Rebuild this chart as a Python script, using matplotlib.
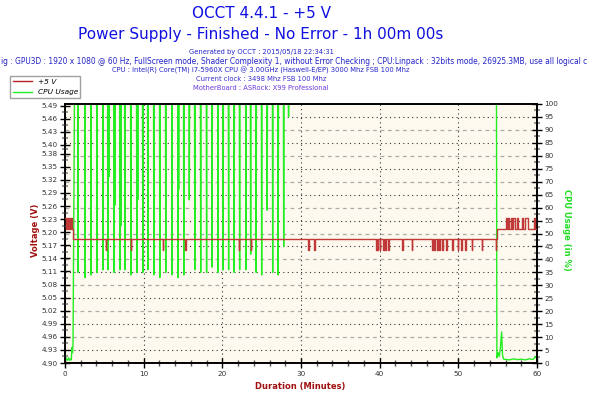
import matplotlib
matplotlib.use('Agg')
import matplotlib.pyplot as plt
from matplotlib.lines import Line2D
from matplotlib.ticker import FixedLocator, MultipleLocator

# ---------------- data ----------------
# CPU usage (%) vs time (minutes)
cpu_start_t = [0.0, 0.05, 0.15, 0.3, 0.45, 0.6, 0.7, 0.8, 0.88, 0.95, 1.02, 1.1, 1.2]
cpu_start_v = [10, 3, 1.5, 1, 2, 1, 1.5, 1.2, 6, 4, 7, 50, 100]
cpu_drop_t = [1.65, 2.54, 3.30, 4.06, 4.82, 5.45, 5.60, 6.22, 6.35, 6.98, 7.10, 7.61,
              8.37, 9.13, 9.25, 9.89, 10.53, 11.29, 12.05, 12.81, 13.60, 14.37, 14.45,
              15.10, 15.80, 16.50, 17.25, 18.00, 18.70, 19.45, 20.10, 20.80, 21.50,
              22.20, 23.00, 23.60, 24.30, 25.00, 25.70, 26.40, 27.10, 27.80, 28.42]
cpu_drop_v = [35, 33, 34, 35, 36, 36, 72, 35, 61, 36, 53, 36,
              34, 35, 63, 35, 36, 34, 33, 35, 34, 33, 67,
              34, 63, 36, 35, 35, 37, 35, 36, 36, 35,
              36, 36, 42, 35, 34, 59, 35, 34, 45, 95]
cpu_end_t = [54.85, 54.9, 55.05, 55.2, 55.35, 55.5, 55.62, 55.75, 56.5, 57.0, 57.5,
             58.0, 58.5, 59.0, 59.5, 59.85, 60.0]
cpu_end_v = [100, 2, 4, 2.5, 6, 12, 3, 1.5, 1.2, 1.6, 1.3, 1.5, 1.2, 1.6, 1.4, 2.5, 1.5]

# +5 V voltage (V)
v_osc_t = [0.0, 0.12, 0.25, 0.38, 0.5, 0.62, 0.75, 0.88]
v_osc_v = [5.232, 5.208, 5.232, 5.208, 5.232, 5.208, 5.232, 5.208]
v_base_before = 5.184
v_base_after = 5.208
v_low = 5.160
v_high = 5.232
v_step_t = 54.9
v_drop_t = [5.16, 8.33, 12.4, 15.3, 22.1, 23.6, 30.9, 31.7, 39.5, 39.7, 40.0, 40.4,
            40.7, 41.1, 42.9, 44.1, 46.6, 46.9, 47.3, 47.6, 47.9, 48.4, 49.2, 49.9,
            50.3, 50.9, 51.7, 53.0, 54.75]
v_drop_w = [0.1, 0.1, 0.08, 0.12, 0.08, 0.06, 0.08, 0.1, 0.1, 0.15, 0.1, 0.2,
            0.1, 0.08, 0.06, 0.06, 0.2, 0.1, 0.15, 0.1, 0.15, 0.1, 0.1, 0.1,
            0.15, 0.1, 0.08, 0.06, 0.05]
v_spike_t = [56.0, 56.3, 56.7, 57.0, 57.5, 58.1, 58.5, 59.6]
v_spike_w = [0.15, 0.15, 0.1, 0.15, 0.1, 0.1, 0.3, 0.1]

volt_ticks = [4.90, 4.93, 4.96, 4.99, 5.02, 5.05, 5.08, 5.11, 5.14, 5.17, 5.20,
              5.23, 5.26, 5.29, 5.32, 5.35, 5.38, 5.40, 5.43, 5.46, 5.49]
volt_labels = ['4.90', '4.93', '4.96', '4.99', '5.02', '5.05', '5.08', '5.11', '5.14',
               '5.17', '5.20', '5.23', '5.26', '5.29', '5.32', '5.35', '5.38', '5.40',
               '5.43', '5.46', '5.49']
cpu_ticks = list(range(0, 101, 5))
x_ticks = [0, 10, 20, 30, 40, 50, 60]

# ---------------- build series ----------------
cpu_t = list(cpu_start_t)
cpu_v = list(cpu_start_v)
for t, v in zip(cpu_drop_t, cpu_drop_v):
    cpu_t += [t - 0.035, t, t + 0.035]
    cpu_v += [100, v, 100]
cpu_t += cpu_end_t
cpu_v += cpu_end_v

vt = list(v_osc_t)
vv = list(v_osc_v)
vt.append(1.0)
vv.append(v_base_before)
for t, w in zip(v_drop_t, v_drop_w):
    vt += [t, t + w]
    vv += [v_low, v_base_before]
vt.append(v_step_t)
vv.append(v_base_after)
for t, w in zip(v_spike_t, v_spike_w):
    vt += [t, t + w]
    vv += [v_high, v_base_after]
vt.append(60.0)
vv.append(v_base_after)

# ---------------- figure ----------------
fig = plt.figure(figsize=(6, 4), dpi=100)
fig.patch.set_facecolor('white')
ax = fig.add_axes([65/600, 1 - 363/400, 472/600, 259/400])
ax.set_facecolor('#FEF9EE')
ax2 = ax.twinx()

# CPU axis (right side)
ax.yaxis.tick_right()
ax.yaxis.set_label_position('right')
ax.set_xlim(0, 60)
ax.set_ylim(0, 100)
ax2.yaxis.tick_left()
ax2.set_ylim(4.90, 5.494)

# grid
for p in cpu_ticks[1:-1]:
    if p % 10 == 5:
        ax.axhline(p, color='#333333', lw=0.8, ls=(0, (1, 3)), zorder=0.5)
    else:
        ax.axhline(p, color='#AAAAAA', lw=0.9, ls=(0, (3, 3)), zorder=0.5)
for xv in x_ticks[1:-1]:
    ax.axvline(xv, color='#333333', lw=0.8, ls=(0, (1, 3)), zorder=0.5)

ax.plot(cpu_t, cpu_v, color='#22EE22', lw=1.0, zorder=2)
ax2.plot(vt, vv, color='#C03838', lw=1.0, drawstyle='steps-post', zorder=3)

# ticks
ax.set_xticks(x_ticks)
ax.xaxis.set_minor_locator(MultipleLocator(2))
ax.set_yticks(cpu_ticks)
ax.set_yticklabels([str(c) for c in cpu_ticks])
ax.yaxis.set_minor_locator(MultipleLocator(2.5))
ax2.yaxis.set_major_locator(FixedLocator(volt_ticks))
ax2.set_yticklabels(volt_labels)
ax2.yaxis.set_minor_locator(FixedLocator([(volt_ticks[i] + volt_ticks[i + 1]) / 2
                                          for i in range(len(volt_ticks) - 1)]))

tick_font = 5.2
ax.tick_params(axis='x', which='major', direction='inout', length=7, width=1,
               labelsize=tick_font, colors='black', labelcolor='#333333', pad=2)
ax.tick_params(axis='x', which='minor', direction='inout', length=4, width=1, color='#555555')
ax.tick_params(axis='y', which='major', direction='inout', length=7, width=1,
               labelsize=tick_font, labelcolor='#333333', pad=2)
ax.tick_params(axis='y', which='minor', direction='inout', length=4, width=1.5, color='#999999')
ax2.tick_params(axis='y', which='major', direction='inout', length=7, width=1,
                labelsize=tick_font, labelcolor='#333333', pad=2)
ax2.tick_params(axis='y', which='minor', direction='inout', length=4, width=1.5, color='#999999')

for a in (ax, ax2):
    for s in a.spines.values():
        s.set_color('black')
        s.set_linewidth(1.2)

# titles
cx = 261/600
fig.text(cx, 1 - 13/400, 'OCCT 4.4.1 - +5 V', ha='center', va='center',
         fontsize=11, color='#1010E0')
fig.text(cx, 1 - 34/400, 'Power Supply - Finished - No Error - 1h 00m 00s', ha='center',
         va='center', fontsize=11, color='#1010E0')
fig.text(cx, 1 - 52/400, 'Generated by OCCT : 2015/05/18 22:34:31', ha='center',
         va='center', fontsize=4.9, color='#2424C8')
fig.text(1/600, 1 - 61/400,
         'ig : GPU3D : 1920 x 1080 @ 60 Hz, FullScreen mode, Shader Complexity 1, '
         'without Error Checking ; CPU:Linpack : 32bits mode, 26925.3MB, use all logical c',
         ha='left', va='center', fontsize=5.45, color='#2424C8')
fig.text(cx, 1 - 70/400,
         'CPU : Intel(R) Core(TM) i7-5960X CPU @ 3.00GHz (Haswell-E/EP) 3000 Mhz FSB 100 Mhz',
         ha='center', va='center', fontsize=4.9, color='#2424C8')
fig.text(cx, 1 - 79/400, 'Current clock : 3498 Mhz FSB 100 Mhz', ha='center',
         va='center', fontsize=4.9, color='#3A2ED0')
fig.text(cx, 1 - 88/400, 'MotherBoard : ASRock: X99 Professional', ha='center',
         va='center', fontsize=4.9, color='#6A3ADC')

# axis labels
fig.text(35/600, 1 - 230/400, 'Voltage (V)', rotation=90, ha='center', va='center',
         fontsize=6, fontweight='bold', color='#A01010')
fig.text(567/600, 1 - 230/400, 'CPU Usage (in %)', rotation=270, ha='center', va='center',
         fontsize=6, fontweight='bold', color='#22DD22')
fig.text(0.5, 1 - 387/400, 'Duration (Minutes)', ha='center', va='center',
         fontsize=6, fontweight='bold', color='#A01010')

# legend
handles = [Line2D([], [], color='#B22222', lw=1), Line2D([], [], color='#22EE22', lw=1)]
leg = fig.legend(handles, ['+5 V', 'CPU Usage'], loc='upper left',
                 bbox_to_anchor=(10/600, 1 - 76/400), fontsize=5.3, frameon=True,
                 fancybox=False, shadow=False, handlelength=2.6, borderpad=0.35,
                 labelspacing=0.6, handletextpad=0.8, borderaxespad=0)
leg.get_frame().set_edgecolor('#888888')
leg.get_frame().set_linewidth(1.0)
for t in leg.get_texts():
    t.set_fontstyle('italic')
leg.set_zorder(10)

fig.savefig('out.png', dpi=100)
